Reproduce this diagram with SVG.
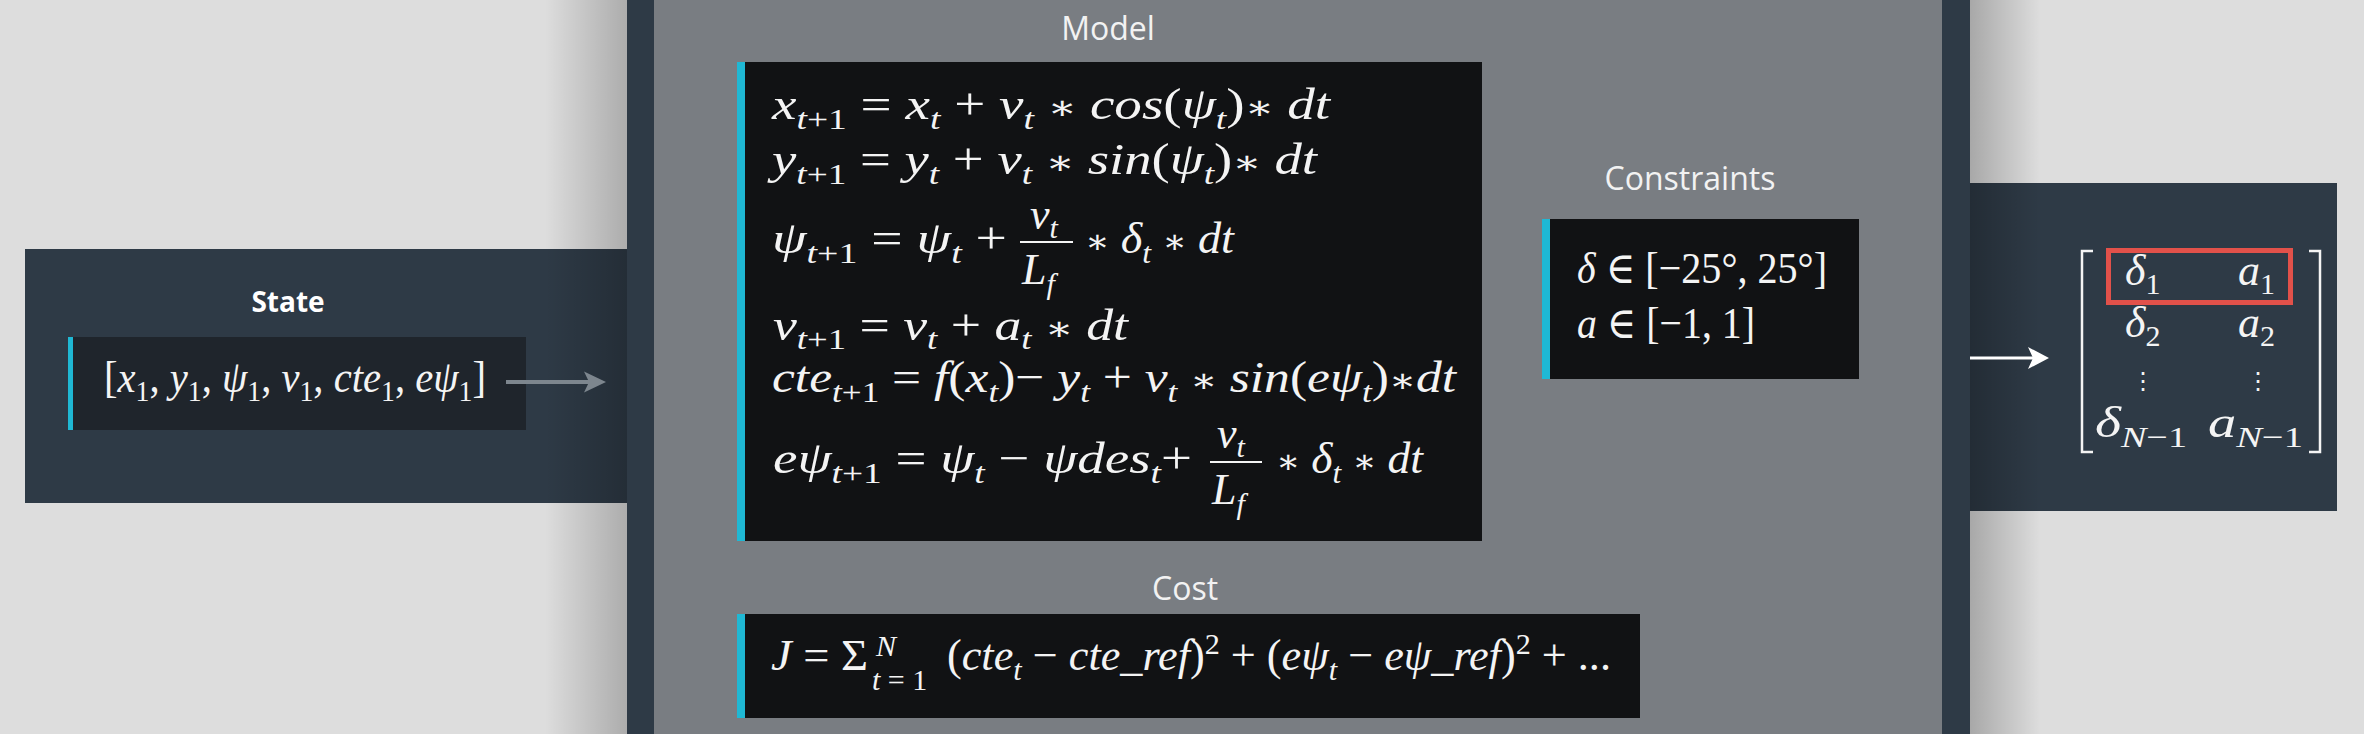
<svg xmlns="http://www.w3.org/2000/svg" width="2364" height="734" viewBox="0 0 2364 734">
<defs>
<style>
.panel{fill:#2e3a46}
.box{fill:#111214}
.bar{fill:#1fb8d4}
.lbl{font-family:"Open Sans","Noto Sans",sans-serif;font-size:32px;fill:#f2f2f2;text-anchor:middle}
.lblb{font-family:"Open Sans","Noto Sans",sans-serif;font-size:28px;font-weight:700;fill:#ffffff;text-anchor:middle}
.mi{font-family:"Liberation Serif","DejaVu Serif",serif;font-style:italic;font-size:44px;fill:#f4f4f4}
.up{font-style:normal}
.s{font-size:30px}
.op{font-family:"DejaVu Serif","Liberation Serif",serif;font-style:normal;font-size:34px}
.fbar{stroke:#f4f4f4;stroke-width:2}
.brk{fill:none;stroke:#f4f4f4;stroke-width:2.5}
</style>
<linearGradient id="shL" x1="0" y1="0" x2="1" y2="0">
<stop offset="0" stop-color="#000" stop-opacity="0"/>
<stop offset="1" stop-color="#000" stop-opacity="0.22"/>
</linearGradient>
<linearGradient id="shR" x1="0" y1="0" x2="1" y2="0">
<stop offset="0" stop-color="#000" stop-opacity="0.24"/>
<stop offset="1" stop-color="#000" stop-opacity="0"/>
</linearGradient>
</defs>
<rect x="0" y="0" width="2364" height="734" fill="#dddddd"/>

<g id="state-panel">
<rect class="panel" x="25" y="249" width="610" height="254"/>
<text class="lblb" x="288" y="312">State</text>
<rect x="68" y="337" width="458" height="93" fill="#1f252c"/>
<rect class="bar" x="68" y="337" width="5" height="93"/>
<text class="mi" x="104" y="392" font-size="43" textLength="382" lengthAdjust="spacingAndGlyphs"><tspan class="up">[</tspan>x<tspan class="s up" dy="9">1</tspan><tspan class="up" dy="-9">, </tspan>y<tspan class="s up" dy="9">1</tspan><tspan class="up" dy="-9">, </tspan>ψ<tspan class="s up" dy="9">1</tspan><tspan class="up" dy="-9">, </tspan>v<tspan class="s up" dy="9">1</tspan><tspan class="up" dy="-9">, </tspan>cte<tspan class="s up" dy="9">1</tspan><tspan class="up" dy="-9">, </tspan>eψ<tspan class="s up" dy="9">1</tspan><tspan class="up" dy="-9">]</tspan></text>
</g>

<g id="output-panel">
<rect class="panel" x="1960" y="183" width="377" height="328"/>
<path class="brk" d="M2093,251 H2082 V452 H2093"/>
<path class="brk" d="M2309,251 H2320 V452 H2309"/>
<rect x="2108.5" y="250.5" width="182" height="52" fill="none" stroke="#e2514a" stroke-width="5"/>
<text class="mi" x="2125" y="285" font-size="42">δ<tspan class="s up" dy="9">1</tspan></text>
<text class="mi" x="2238" y="285" font-size="42">a<tspan class="s up" dy="9">1</tspan></text>
<text class="mi" x="2125" y="337" font-size="42">δ<tspan class="s up" dy="9">2</tspan></text>
<text class="mi" x="2238" y="337" font-size="42">a<tspan class="s up" dy="9">2</tspan></text>
<text x="2143" y="389" font-family="DejaVu Serif,serif" font-size="24" fill="#f4f4f4" text-anchor="middle">⋮</text>
<text x="2258" y="389" font-family="DejaVu Serif,serif" font-size="24" fill="#f4f4f4" text-anchor="middle">⋮</text>
<text class="mi" x="2095" y="437" font-size="42" textLength="92" lengthAdjust="spacingAndGlyphs">δ<tspan class="s" dy="10">N</tspan><tspan class="s up">−1</tspan></text>
<text class="mi" x="2208" y="437" font-size="42" textLength="95" lengthAdjust="spacingAndGlyphs">a<tspan class="s" dy="10">N</tspan><tspan class="s up">−1</tspan></text>
</g>

<g id="model-panel">
<rect class="panel" x="627" y="-10" width="1343" height="754"/>
<rect x="654" y="-10" width="1288" height="754" fill="#797d82"/>
<text class="lbl" x="1108" y="40">Model</text>
<text class="lbl" x="1690" y="190">Constraints</text>
<text class="lbl" x="1185" y="600">Cost</text>
</g>
<rect x="545" y="0" width="82" height="734" fill="url(#shL)"/>
<rect x="1970" y="0" width="70" height="734" fill="url(#shR)"/>

<g id="model-box">
<rect class="box" x="737" y="62" width="745" height="479"/>
<rect class="bar" x="737" y="62" width="8" height="479"/>
<text class="mi" x="772" y="119" textLength="558" lengthAdjust="spacingAndGlyphs">x<tspan class="s" dy="10">t</tspan><tspan class="s up">+1</tspan><tspan class="up" dy="-10"> = </tspan>x<tspan class="s" dy="10">t</tspan><tspan class="up" dy="-10"> + </tspan>v<tspan class="s" dy="10">t</tspan><tspan class="op" dy="-10"> ∗ </tspan>cos<tspan class="up">(</tspan>ψ<tspan class="s" dy="10">t</tspan><tspan class="up" dy="-10">)</tspan><tspan class="op">∗ </tspan>dt</text>
<text class="mi" x="772" y="174" textLength="545" lengthAdjust="spacingAndGlyphs">y<tspan class="s" dy="10">t</tspan><tspan class="s up">+1</tspan><tspan class="up" dy="-10"> = </tspan>y<tspan class="s" dy="10">t</tspan><tspan class="up" dy="-10"> + </tspan>v<tspan class="s" dy="10">t</tspan><tspan class="op" dy="-10"> ∗ </tspan>sin<tspan class="up">(</tspan>ψ<tspan class="s" dy="10">t</tspan><tspan class="up" dy="-10">)</tspan><tspan class="op">∗ </tspan>dt</text>
<text class="mi" x="772" y="253" textLength="235" lengthAdjust="spacingAndGlyphs">ψ<tspan class="s" dy="10">t</tspan><tspan class="s up">+1</tspan><tspan class="up" dy="-10"> = </tspan>ψ<tspan class="s" dy="10">t</tspan><tspan class="up" dy="-10"> +</tspan></text>
<line class="fbar" x1="1020" y1="242" x2="1073" y2="242"/>
<text class="mi" x="1030" y="229">v<tspan class="s" dy="9">t</tspan></text>
<text class="mi" x="1022" y="284">L<tspan class="s" dy="10">f</tspan></text>
<text class="mi" x="1085" y="253" textLength="149" lengthAdjust="spacingAndGlyphs"><tspan class="op">∗ </tspan>δ<tspan class="s" dy="10">t</tspan><tspan class="op" dy="-10"> ∗ </tspan>dt</text>
<text class="mi" x="773" y="340" textLength="355" lengthAdjust="spacingAndGlyphs">v<tspan class="s" dy="9">t</tspan><tspan class="s up">+1</tspan><tspan class="up" dy="-9"> = </tspan>v<tspan class="s" dy="9">t</tspan><tspan class="up" dy="-9"> + </tspan>a<tspan class="s" dy="9">t</tspan><tspan class="op" dy="-9"> ∗ </tspan>dt</text>
<text class="mi" x="772" y="392" textLength="684" lengthAdjust="spacingAndGlyphs">cte<tspan class="s" dy="10">t</tspan><tspan class="s up">+1</tspan><tspan class="up" dy="-10"> = </tspan>f<tspan class="up">(</tspan>x<tspan class="s" dy="10">t</tspan><tspan class="up" dy="-10">)</tspan><tspan class="up">− </tspan>y<tspan class="s" dy="10">t</tspan><tspan class="up" dy="-10"> + </tspan>v<tspan class="s" dy="10">t</tspan><tspan class="op" dy="-10"> ∗ </tspan>sin<tspan class="up">(</tspan>eψ<tspan class="s" dy="10">t</tspan><tspan class="up" dy="-10">)</tspan><tspan class="op">∗</tspan>dt</text>
<text class="mi" x="773" y="473" textLength="419" lengthAdjust="spacingAndGlyphs">eψ<tspan class="s" dy="10">t</tspan><tspan class="s up">+1</tspan><tspan class="up" dy="-10"> = </tspan>ψ<tspan class="s" dy="10">t</tspan><tspan class="up" dy="-10"> − </tspan>ψdes<tspan class="s" dy="10">t</tspan><tspan class="up" dy="-10">+</tspan></text>
<line class="fbar" x1="1210" y1="462" x2="1262" y2="462"/>
<text class="mi" x="1217" y="448">v<tspan class="s" dy="9">t</tspan></text>
<text class="mi" x="1212" y="504">L<tspan class="s" dy="10">f</tspan></text>
<text class="mi" x="1276" y="473" textLength="147" lengthAdjust="spacingAndGlyphs"><tspan class="op">∗ </tspan>δ<tspan class="s" dy="10">t</tspan><tspan class="op" dy="-10"> ∗ </tspan>dt</text>
</g>

<g id="constraints-box">
<rect class="box" x="1542" y="219" width="317" height="160"/>
<rect class="bar" x="1542" y="219" width="8" height="160"/>
<text class="mi" x="1577" y="283" textLength="250" lengthAdjust="spacingAndGlyphs">δ<tspan class="up"> ∈ [−25°, 25°]</tspan></text>
<text class="mi" x="1577" y="338" textLength="178" lengthAdjust="spacingAndGlyphs">a<tspan class="up"> ∈ [−1, 1]</tspan></text>
</g>

<g id="cost-box">
<rect class="box" x="737" y="614" width="903" height="104"/>
<rect class="bar" x="737" y="614" width="8" height="104"/>
<text class="mi" x="771" y="670" textLength="97" lengthAdjust="spacingAndGlyphs">J<tspan class="up"> = Σ</tspan></text>
<text class="mi s" x="876" y="656">N</text>
<text class="mi s" x="872" y="690">t<tspan class="up"> = 1</tspan></text>
<text class="mi" x="947" y="670" textLength="664" lengthAdjust="spacingAndGlyphs"><tspan class="up">(</tspan>cte<tspan class="s" dy="10">t</tspan><tspan class="up" dy="-10"> − </tspan>cte_ref<tspan class="up">)</tspan><tspan class="s up" dy="-16">2</tspan><tspan class="up" dy="16"> + (</tspan>eψ<tspan class="s" dy="10">t</tspan><tspan class="up" dy="-10"> − </tspan>eψ_ref<tspan class="up">)</tspan><tspan class="s up" dy="-16">2</tspan><tspan class="up" dy="16"> + ...</tspan></text>
</g>

<g id="connectors">
<line x1="506" y1="382" x2="592" y2="382" stroke="#7d868e" stroke-width="4"/>
<path d="M606,382 L584,371.5 L589,382 L584,392.5 Z" fill="#7d868e"/>
<line x1="1970" y1="358" x2="2035" y2="358" stroke="#ffffff" stroke-width="3"/>
<path d="M2049,358 L2028,347 L2033,358 L2028,369 Z" fill="#ffffff"/>
</g>
</svg>
